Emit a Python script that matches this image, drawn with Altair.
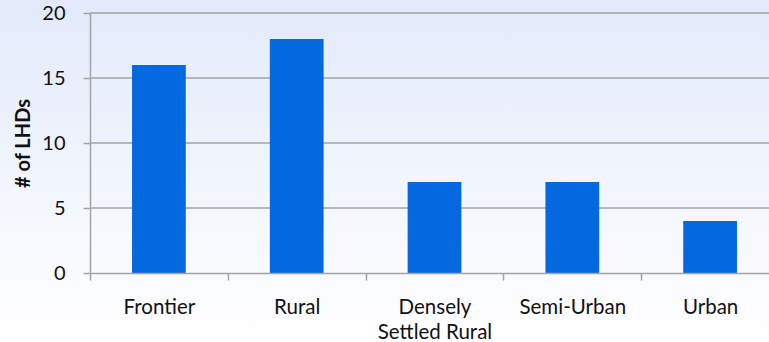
import altair as alt
import pandas as pd

# Local health departments by urbanicity category
categories = ["Frontier", "Rural", "Densely Settled Rural", "Semi-Urban", "Urban"]
counts = [16, 18, 7, 7, 4]
y_ticks = [0, 5, 10, 15, 20]

df = pd.DataFrame({"category": categories, "count": counts})
grid_df = pd.DataFrame({"level": y_ticks[1:]})

FONT = "Lato"
GRID = "#a3a3a3"
y_scale = alt.Scale(domain=[0, 20])

# soft blue-to-white backdrop behind the whole figure
backdrop = alt.Chart(pd.DataFrame({"k": [0]})).mark_rect(
    color=alt.Gradient(
        gradient="linear",
        stops=[
            alt.GradientStop(color="#e2eafa", offset=0),
            alt.GradientStop(color="#ffffff", offset=1),
        ],
        x1=0, x2=0, y1=0, y2=1,
    )
).encode(
    x=alt.value(-90), x2=alt.value(700),
    y=alt.value(-13), y2=alt.value(329),
)

# horizontal gridlines, kept beneath the bars
grid = alt.Chart(grid_df).mark_rule(color=GRID, strokeWidth=1.5).encode(
    y=alt.Y("level:Q", scale=y_scale),
    x=alt.value(0), x2=alt.value(700),
)

bars = alt.Chart(df).mark_bar(
    color="#0468de",
    width=alt.RelativeBandSize(0.39),
).encode(
    x=alt.X(
        "category:N",
        sort=categories,
        scale=alt.Scale(range=[0, 689], paddingInner=0, paddingOuter=0),
        axis=alt.Axis(
            title=None,
            grid=False,
            zindex=1,
            tickBand="extent",
            tickSize=7,
            tickColor=GRID,
            tickWidth=1.5,
            domainColor=GRID,
            domainWidth=1.5,
            labelPadding=17,
            labelAngle=0,
            labelFont=FONT,
            labelFontSize=20.5,
            labelColor="#111111",
            labelLineHeight=25,
            labelBaseline="top",
            labelExpr="datum.label == 'Densely Settled Rural' ? ['Densely', 'Settled Rural'] : datum.label",
        ),
    ),
    y=alt.Y(
        "count:Q",
        scale=y_scale,
        axis=alt.Axis(
            title="# of LHDs",
            titleFont=FONT,
            titleFontSize=20,
            titleFontWeight="bold",
            titleColor="#111111",
            titlePadding=8,
            values=y_ticks,
            grid=False,
            zindex=1,
            tickSize=7,
            tickColor=GRID,
            tickWidth=1.5,
            domainColor=GRID,
            domainWidth=1.5,
            labelPadding=18,
            labelFont=FONT,
            labelFontSize=20,
            labelColor="#111111",
        ),
    ),
)

chart = alt.layer(backdrop, grid, bars).properties(
    width=679,
    height=260,
    padding={"left": 90, "top": 13, "right": 0, "bottom": 69},
    autosize=alt.AutoSizeParams(type="none"),
    background="#ffffff",
).configure_view(stroke=None)

chart.save("out.html", embed_options={"renderer": "svg", "actions": False})
